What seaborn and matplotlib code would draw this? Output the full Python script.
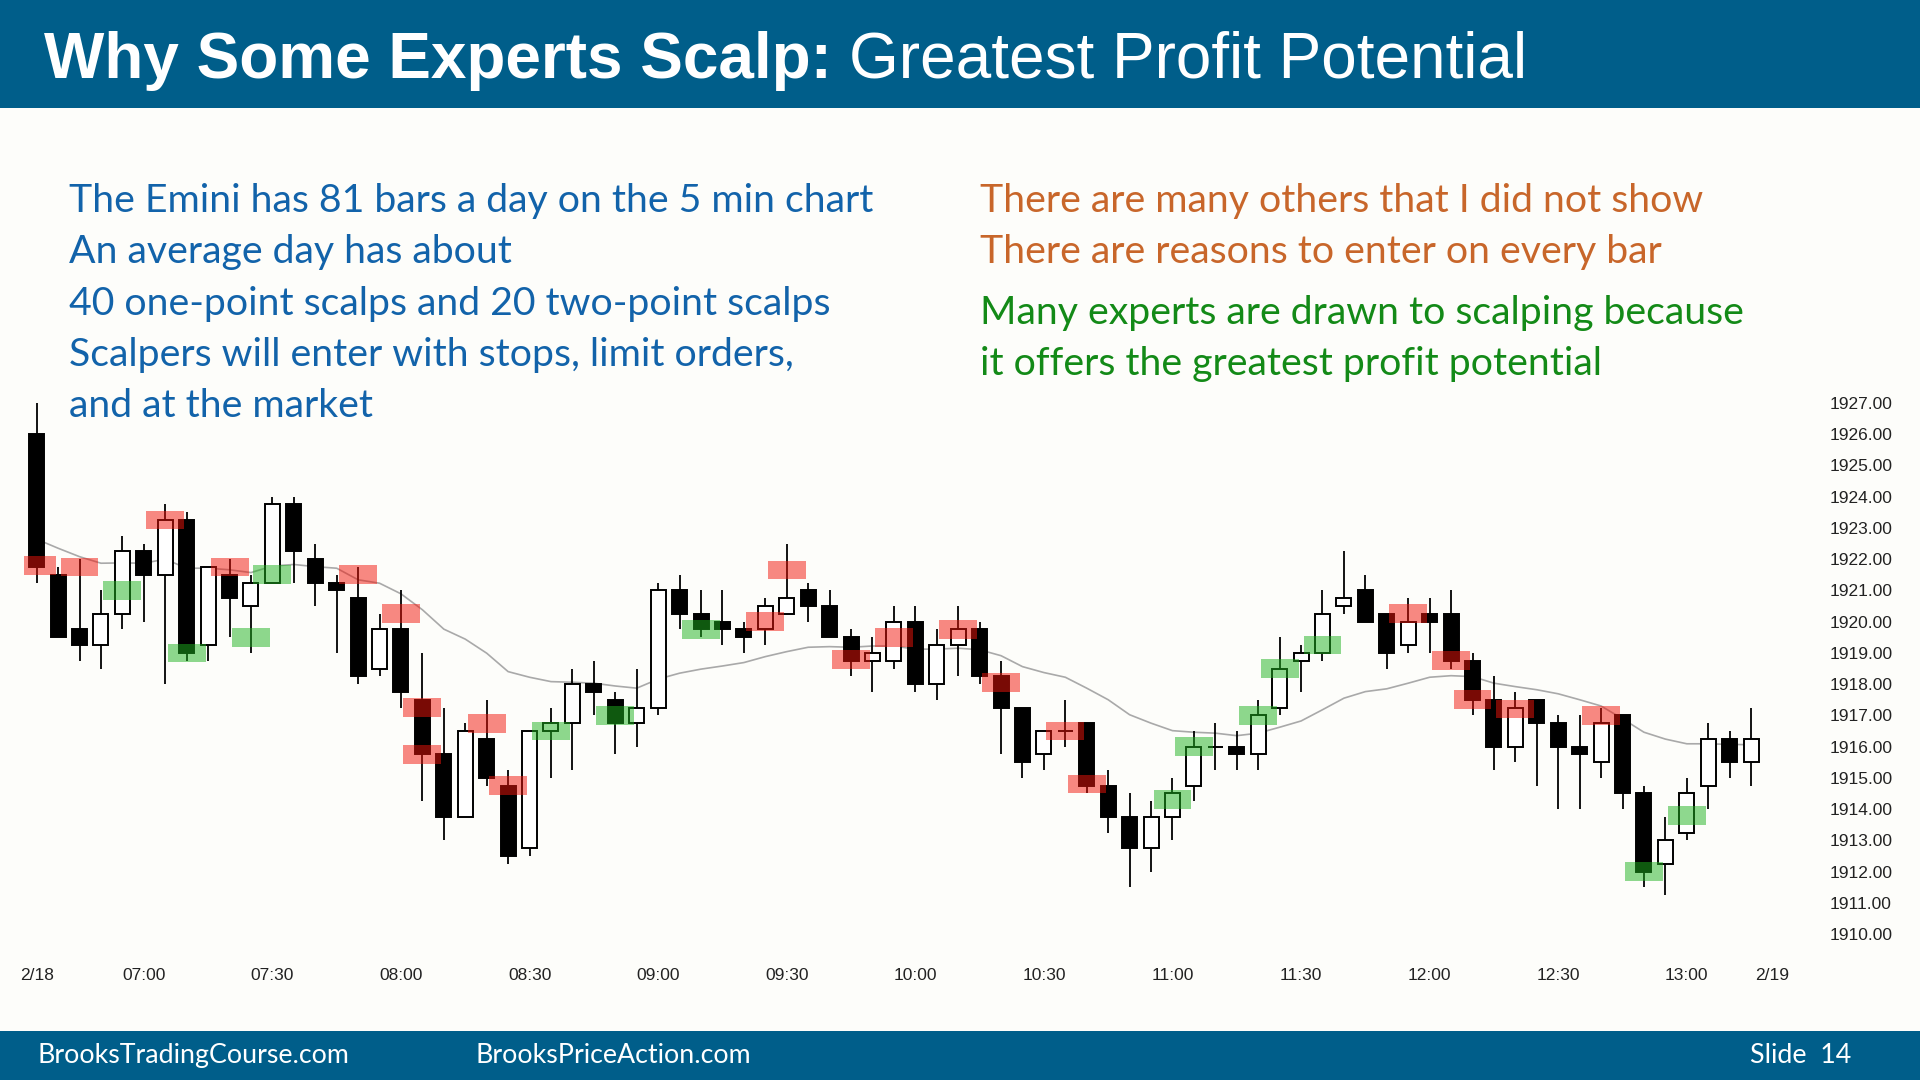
import numpy as np
import pandas as pd
import matplotlib
matplotlib.use("Agg")
import matplotlib.pyplot as plt
from matplotlib.patches import Rectangle
import seaborn as sns

sns.set_theme(style="white")
plt.rcParams['font.family'] = ['Lato', 'DejaVu Sans']

# 5 min Emini bars, 2/18
opens = [1926, 1921.5, 1919.75, 1919.25, 1920.25, 1922.25, 1921.5, 1923.25, 1919.25, 1921.5,
         1920.5, 1921.25, 1923.75, 1922, 1921.25, 1920.75, 1918.5, 1919.75, 1917.5, 1915.75,
         1913.75, 1916.25, 1914.75, 1912.75, 1916.5, 1916.75, 1918, 1917.5, 1916.75, 1917.25,
         1921, 1920.25, 1920, 1919.75, 1919.75, 1920.25, 1921, 1920.5, 1919.5, 1918.75,
         1918.75, 1920, 1918, 1919.25, 1919.75, 1918.25, 1917.25, 1915.75, 1916.5, 1916.75,
         1914.75, 1913.75, 1912.75, 1913.75, 1914.75, 1916, 1916, 1915.75, 1917.25, 1918.75,
         1919, 1920.5, 1921, 1920.25, 1919.25, 1920.25, 1920.25, 1918.75, 1917.5, 1916,
         1917.5, 1916.75, 1916, 1915.5, 1917, 1914.5, 1912.25, 1913.25, 1914.75, 1916.25,
         1915.5]
highs = [1927, 1921.75, 1922, 1921, 1922.75, 1922.5, 1923.75, 1923.5, 1921.75, 1922,
         1921.5, 1924, 1924, 1922.5, 1921.5, 1921.75, 1920.25, 1921, 1919, 1917.25,
         1916.75, 1917.5, 1915.25, 1916.5, 1917.25, 1918.5, 1918.75, 1917.75, 1918.5, 1921.25,
         1921.5, 1921, 1921, 1920, 1920.75, 1922.5, 1921.25, 1921, 1919.75, 1919.5,
         1920.5, 1920.5, 1919.75, 1920.5, 1920, 1918.75, 1917.25, 1916.5, 1917.5, 1916.75,
         1915.25, 1914.5, 1914.25, 1915, 1916.5, 1916.75, 1916.5, 1917.5, 1919.5, 1919.25,
         1921, 1922.25, 1921.5, 1920.25, 1920.75, 1920.75, 1921, 1919, 1918.25, 1917.75,
         1917.5, 1917, 1917, 1917.25, 1917, 1914.75, 1913.75, 1915, 1916.75, 1916.5,
         1917.25]
lows = [1921.25, 1919.5, 1918.75, 1918.5, 1919.75, 1920, 1918, 1918.75, 1918.75, 1919.5,
        1919, 1921.25, 1921.25, 1920.5, 1919, 1918, 1918.25, 1917.25, 1914.25, 1913,
        1913.75, 1914.75, 1912.25, 1912.5, 1915, 1915.25, 1917, 1915.75, 1916, 1917,
        1919.75, 1919.5, 1919.25, 1919, 1919.25, 1920.25, 1920, 1919.5, 1918.25, 1917.75,
        1918.5, 1917.75, 1917.5, 1918.25, 1918, 1915.75, 1915, 1915.25, 1916, 1914.5,
        1913.25, 1911.5, 1912, 1913, 1914.25, 1915.25, 1915.25, 1915.25, 1917, 1917.75,
        1918.75, 1920.25, 1920, 1918.5, 1919, 1919, 1918.5, 1917, 1915.25, 1915.5,
        1914.75, 1914, 1914, 1915, 1914, 1911.5, 1911.25, 1913, 1914, 1915,
        1914.75]
closes = [1921.75, 1919.5, 1919.25, 1920.25, 1922.25, 1921.5, 1923.25, 1919, 1921.75, 1920.75,
          1921.25, 1923.75, 1922.25, 1921.25, 1921, 1918.25, 1919.75, 1917.75, 1915.75, 1913.75,
          1916.5, 1915, 1912.5, 1916.5, 1916.75, 1918, 1917.75, 1916.75, 1917.25, 1921,
          1920.25, 1919.75, 1919.75, 1919.5, 1920.5, 1920.75, 1920.5, 1919.5, 1918.75, 1919,
          1920, 1918, 1919.25, 1919.75, 1918.25, 1917.25, 1915.5, 1916.5, 1916.5, 1914.75,
          1913.75, 1912.75, 1913.75, 1914.5, 1916, 1916, 1915.75, 1917, 1918.5, 1919,
          1920.25, 1920.75, 1920, 1919, 1920, 1920, 1918.75, 1917.5, 1916, 1917.25,
          1916.75, 1916, 1915.75, 1916.75, 1914.5, 1912, 1913, 1914.5, 1916.25, 1915.5,
          1916.25]

# moving average (gray line)
ema = [1922.64, 1922.35, 1922.08, 1921.87, 1921.88, 1921.87, 1922.0, 1921.71, 1921.71, 1921.66,
       1921.57, 1921.78, 1921.83, 1921.76, 1921.71, 1921.34, 1921.23, 1920.89, 1920.38, 1919.76,
       1919.44, 1918.99, 1918.4, 1918.22, 1918.08, 1918.06, 1918.03, 1917.94, 1917.87, 1918.16,
       1918.35, 1918.48, 1918.58, 1918.69, 1918.88, 1919.04, 1919.18, 1919.2, 1919.18, 1919.22,
       1919.22, 1919.12, 1919.12, 1919.15, 1919.1, 1918.91, 1918.56, 1918.37, 1918.22, 1917.87,
       1917.5, 1917.02, 1916.75, 1916.51, 1916.46, 1916.43, 1916.35, 1916.43, 1916.62, 1916.82,
       1917.18, 1917.55, 1917.76, 1917.85, 1918.03, 1918.22, 1918.27, 1918.24, 1918.03, 1917.92,
       1917.82, 1917.69, 1917.5, 1917.3, 1916.89, 1916.46, 1916.24, 1916.09, 1916.09, 1916.07,
       1916.06]

# scalp entry markers
red_bars = [0, 2, 6, 9, 15, 17, 18, 18, 21, 22, 34, 35, 38, 40, 43, 45, 48, 49, 64, 66, 67, 69, 73]
red_prices = [1921.8, 1921.75, 1923.25, 1921.75, 1921.5, 1920.25, 1917.25, 1915.75, 1916.75, 1914.75,
              1920.0, 1921.65, 1918.8, 1919.5, 1919.75, 1918.05, 1916.5, 1914.8, 1920.25, 1918.75,
              1917.5, 1917.2, 1917.0]
green_bars = [4, 7, 10, 11, 24, 27, 31, 53, 54, 57, 58, 60, 75, 77]
green_prices = [1921.0, 1919.0, 1919.5, 1921.5, 1916.5, 1917.0, 1919.75, 1914.3, 1916.0, 1917.0,
                1918.5, 1919.25, 1912.0, 1913.8]

tick_bars = [0, 5, 11, 17, 23, 29, 35, 41, 47, 53, 59, 65, 71, 77, 81]
tick_labels = ['2/18', '07:00', '07:30', '08:00', '08:30', '09:00', '09:30', '10:00',
               '10:30', '11:00', '11:30', '12:00', '12:30', '13:00', '2/19']
price_ticks = list(range(1910, 1928))

left_lines = ["The Emini has 81 bars a day on the 5 min chart",
              "An average day has about",
              "40 one-point scalps and 20 two-point scalps",
              "Scalpers will enter with stops, limit orders,",
              "and at the market"]
orange_lines = ["There are many others that I did not show",
                "There are reasons to enter on every bar"]
green_lines = ["Many experts are drawn to scalping because",
               "it offers the greatest profit potential"]

BAND = '#005E8A'
BG = '#FDFDFA'
W, H = 1920, 1080

df = pd.DataFrame({'bar': np.arange(len(opens)), 'open': opens, 'high': highs,
                   'low': lows, 'close': closes, 'ema': ema})
df['bottom'] = df[['open', 'close']].min(axis=1)
df['size'] = (df['close'] - df['open']).abs()
up = df['close'] >= df['open']

fig = plt.figure(figsize=(19.2, 10.8), dpi=100, facecolor=BG)

# header and footer bands
fig.patches.append(Rectangle((0, 1 - 108 / H), 1, 108 / H, transform=fig.transFigure,
                             facecolor=BAND, edgecolor='none', zorder=0))
fig.patches.append(Rectangle((0, 0), 1, 49 / H, transform=fig.transFigure,
                             facecolor=BAND, edgecolor='none', zorder=0))

# chart axes (pixel layout: bar i at x = 36.7 + 21.43*i)
x0, x1 = -0.6, 83.0
ax = fig.add_axes([23.8 / W, 1 - 955.9 / H, 1791.6 / W, (955.9 - 381.1) / H])
ax.set_facecolor(BG)

sns.lineplot(data=df, x='bar', y='ema', color='#A9A9A9', lw=1.2, ax=ax, zorder=1)
ax.vlines(df['bar'], df['low'], df['high'], color='black', lw=1.3, zorder=2)
ax.bar(df['bar'][up], df['size'][up], bottom=df['bottom'][up], width=0.7,
       facecolor='white', edgecolor='black', lw=1.4, zorder=3)
ax.bar(df['bar'][~up], df['size'][~up], bottom=df['bottom'][~up], width=0.7,
       facecolor='black', edgecolor='black', lw=1.4, zorder=3)

ax.bar(red_bars, 0.6, bottom=np.array(red_prices) - 0.3, width=1.77,
       color=(0.95, 0.08, 0.04), alpha=0.5, lw=0, zorder=4)
ax.bar(green_bars, 0.6, bottom=np.array(green_prices) - 0.3, width=1.77,
       color=(0.12, 0.7, 0.12), alpha=0.5, lw=0, zorder=4)

ax.set_xlim(x0, x1)
ax.set_ylim(1909.3, 1927.7)
ax.yaxis.tick_right()
ax.set_yticks(price_ticks)
ax.set_yticklabels(['%.2f' % p for p in price_ticks], family='Liberation Sans',
                   fontsize=12.5, color='#222222')
ax.set_xticks(tick_bars)
ax.set_xticklabels(tick_labels, family='Liberation Sans', fontsize=12.5, color='#222222')
ax.tick_params(axis='y', length=0, pad=10)
ax.tick_params(axis='x', length=0, pad=9)
ax.set_xlabel('')
ax.set_ylabel('')
for s in ax.spines.values():
    s.set_visible(False)
ax.grid(False)

# title
t1 = fig.text(44 / W, 1 - 78 / H, 'Why Some Experts Scalp:', family='Liberation Sans',
              fontweight='bold', fontsize=46, color='white')
fig.canvas.draw()
bb = t1.get_window_extent()
fig.text((bb.x1 + 17) / W, 1 - 78 / H, 'Greatest Profit Potential', family='Liberation Sans',
         fontsize=46, color='white')

# slide text
for i, line in enumerate(left_lines):
    fig.text(68.6 / W, 1 - (212 + 51.3 * i) / H, line, fontsize=28.3, color='#1263AA')
for i, line in enumerate(orange_lines):
    fig.text(979.6 / W, 1 - (212 + 51.3 * i) / H, line, fontsize=28.3, color='#C8662A')
for i, line in enumerate(green_lines):
    fig.text(979.6 / W, 1 - (324 + 51.3 * i) / H, line, fontsize=28.3, color='#138A17')

# footer
fig.text(37 / W, 1 - 1063 / H, 'BrooksTradingCourse.com', fontsize=19.3, color='white')
fig.text(475 / W, 1 - 1063 / H, 'BrooksPriceAction.com', fontsize=19.3, color='white')
fig.text(1851 / W, 1 - 1063 / H, 'Slide  14', fontsize=19.3, color='white', ha='right')

fig.savefig('out.png', dpi=100, facecolor=BG)
